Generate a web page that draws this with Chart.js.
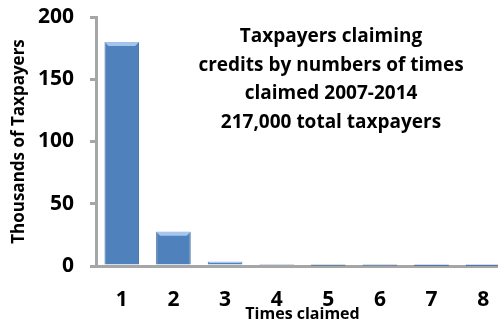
<!DOCTYPE html>
<html>
<head>
<meta charset="utf-8">
<script src="https://cdn.jsdelivr.net/npm/chart.js@4.4.1/dist/chart.umd.min.js"></script>
<style>
  html, body { margin: 0; padding: 0; background: #fff; overflow: hidden; }
  #wrap { width: 512px; height: 324px; }
</style>
</head>
<body>
<div id="wrap"><canvas id="timesChart" width="512" height="324"></canvas></div>
<script>
// ── Data ───────────────────────────────────────────────────────
const timesClaimed = ['1', '2', '3', '4', '5', '6', '7', '8'];
const taxpayersK   = [180, 27.5, 3.5, 0.8, 0.3, 0.15, 0.08, 0.04];   // thousands
const yTicks       = [0, 50, 100, 150, 200];
const titleLines   = [
  'Taxpayers claiming',
  'credits by numbers of times',
  'claimed 2007-2014',
  '217,000 total taxpayers'
];

const FONT     = "'Open Sans', Lato, sans-serif";
const AXIS     = '#a6a6a6';
const BAR      = '#4f81bd';
const BAR_EDGE = '#3b679c';

// ── Plugin: title text block inside the plot ───────────────────
const plotTitle = {
  id: 'plotTitle',
  afterDraw(chart) {
    const { ctx } = chart;
    ctx.save();
    ctx.font = `bold 19px ${FONT}`;
    ctx.fillStyle = '#000';
    ctx.textAlign = 'center';
    ctx.textBaseline = 'middle';
    titleLines.forEach((line, i) => {
      ctx.fillText(line, 331, 37 + i * 28.5);
    });
    ctx.restore();
  }
};

// ── Plugin: light bevel on top of each bar ─────────────────────
const barBevel = {
  id: 'barBevel',
  afterDatasetsDraw(chart) {
    const { ctx } = chart;
    chart.getDatasetMeta(0).data.forEach(bar => {
      const h = bar.base - bar.y;
      if (h < 1) return;
      const half = bar.width / 2;
      const bev = Math.min(4, h / 2);
      ctx.save();
      ctx.fillStyle = 'rgba(180,210,245,0.85)';
      ctx.beginPath();
      ctx.moveTo(bar.x - half, bar.y);
      ctx.lineTo(bar.x + half, bar.y);
      ctx.lineTo(bar.x + half - bev, bar.y + bev);
      ctx.lineTo(bar.x - half + bev, bar.y + bev);
      ctx.closePath();
      ctx.fill();
      ctx.restore();
    });
  }
};

const barFill = (ctx) => {
  const el = ctx.element;
  if (!el || !isFinite(el.x) || !el.width) return BAR;
  const g = ctx.chart.ctx.createLinearGradient(el.x - el.width / 2, 0, el.x + el.width / 2, 0);
  g.addColorStop(0, '#4474b0');
  g.addColorStop(0.15, BAR);
  g.addColorStop(0.85, BAR);
  g.addColorStop(1, '#4474b0');
  return g;
};

new Chart(document.getElementById('timesChart'), {
  type: 'bar',
  data: {
    labels: timesClaimed,
    datasets: [{
      data: taxpayersK,
      backgroundColor: barFill,
      borderColor: BAR_EDGE,
      borderWidth: 1,
      borderSkipped: 'bottom',
      barPercentage: 0.67,
      categoryPercentage: 1
    }]
  },
  options: {
    responsive: false,
    animation: false,
    layout: { padding: { top: 0, right: 3, left: 0, bottom: 0 } },
    plugins: { legend: { display: false }, tooltip: { enabled: false } },
    scales: {
      x: {
        grid: { display: false },
        border: { display: true, color: AXIS, width: 3 },
        ticks: { color: '#000', font: { family: FONT, size: 21, weight: 'bold' }, padding: 13 },
        title: {
          display: true, text: 'Times claimed', color: '#000',
          font: { family: FONT, size: 16, weight: 'bold' }, padding: { top: 0, bottom: 0 }
        },
        afterFit: (scale) => { scale.height = 58; }
      },
      y: {
        min: 0, max: 200,
        afterBuildTicks: (scale) => { scale.ticks = yTicks.map(v => ({ value: v })); },
        grid: { drawOnChartArea: false, drawTicks: true, tickLength: 6, color: AXIS, lineWidth: 3 },
        border: { display: true, color: AXIS, width: 3 },
        ticks: { color: '#000', font: { family: FONT, size: 21, weight: 'bold' }, padding: 16 },
        title: {
          display: true, text: 'Thousands of Taxpayers', color: '#000',
          font: { family: FONT, size: 17, weight: 'bold' }, padding: { top: 9, bottom: 0 }
        },
        afterFit: (scale) => {
          scale.width = 96;
          scale.paddingTop = 17;     // top of axis sits near the top edge
          scale.paddingBottom = 0;
        }
      }
    }
  },
  plugins: [plotTitle, barBevel]
});
</script>
</body>
</html>
